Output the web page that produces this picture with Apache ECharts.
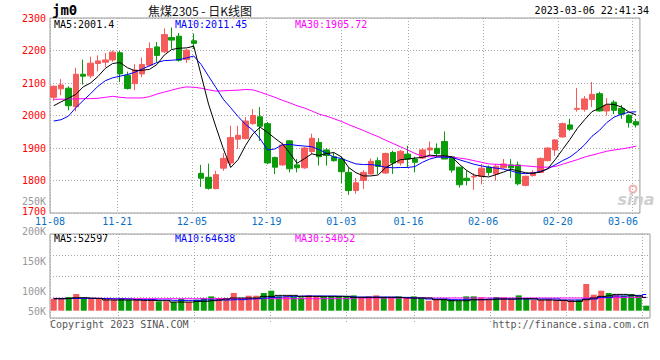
<!DOCTYPE html>
<html><head><meta charset="utf-8">
<script src="https://cdn.jsdelivr.net/npm/echarts@6/dist/echarts.min.js"></script>
<style>html,body{margin:0;padding:0;background:#fff}#c{width:660px;height:360px}</style>
</head><body><div id="c"></div>
<script>
// ---------- data ----------
const dates = ['11-08','11-09','11-10','11-11','11-14','11-15','11-16','11-17','11-18','11-21','11-22','11-23','11-24','11-25','11-28','11-29','11-30',
'12-01','12-02','12-05','12-06','12-07','12-08','12-09','12-12','12-13','12-14','12-15','12-16','12-19','12-20','12-21','12-22','12-23','12-26','12-27','12-28','12-29','12-30',
'01-03','01-04','01-05','01-06','01-09','01-10','01-11','01-12','01-13','01-16','01-17','01-18','01-19','01-20','01-30','01-31',
'02-01','02-02','02-03','02-06','02-07','02-08','02-09','02-10','02-13','02-14','02-15','02-16','02-17','02-20','02-21','02-22','02-23','02-24','02-27','02-28',
'03-01','03-02','03-03','03-06','03-07'];
const opens = [2056,2082,2084,2027,2127,2122,2160,2164,2171,2193,2124,2098,2128,2155,2211,2196,2240,2244,2172,2230,
1822,1810,1775,1838,1854,1927,1929,1975,1996,1975,1871,1848,1922,1848,1839,1889,1917,1894,1873,1866,
1825,1769,1800,1820,1861,1823,1886,1854,1881,1866,1869,1894,1899,1920,1873,1841,1807,1811,1813,1841,
1820,1839,1848,1848,1785,1815,1825,1861,1894,1934,1971,2019,2019,2049,2067,2014,2041,2022,2001,1981];
const closes = [2090,2094,2030,2127,2121,2161,2168,2171,2195,2128,2083,2140,2157,2206,2185,2249,2232,2170,2201,2222,
1807,1776,1818,1868,1932,1939,1983,2000,1967,1854,1841,1909,1836,1839,1900,1930,1873,1877,1861,1827,
1769,1793,1825,1859,1843,1883,1854,1890,1866,1856,1894,1900,1883,1866,1832,1787,1800,1813,1838,1825,
1844,1851,1839,1790,1813,1825,1868,1900,1925,1975,1958,2022,2051,2065,2014,2032,2016,2004,1978,1971];
const lows = [2045,2062,2016,2013,2095,2115,2136,2149,2165,2103,2080,2078,2118,2150,2165,2193,2205,2166,2162,2205,
1780,1772,1773,1830,1846,1897,1926,1972,1922,1850,1820,1845,1825,1825,1836,1881,1846,1846,1858,1792,
1756,1759,1774,1818,1820,1820,1820,1846,1839,1825,1866,1876,1871,1866,1824,1778,1785,1771,1788,1815,
1800,1836,1808,1785,1782,1812,1823,1859,1876,1932,1953,2012,2012,2026,2012,2000,2004,1990,1963,1963];
const highs = [2092,2112,2090,2147,2172,2181,2185,2192,2200,2199,2135,2158,2178,2225,2226,2268,2271,2254,2205,2252,
1848,1852,1830,1884,1968,1968,1995,2020,2026,1980,1873,1917,1924,1866,1904,1944,1930,1900,1886,1873,
1841,1808,1832,1868,1871,1886,1892,1894,1907,1873,1900,1920,1914,1951,1873,1841,1832,1822,1851,1846,
1851,1866,1866,1858,1815,1832,1871,1902,1927,1978,1990,2085,2060,2103,2073,2054,2047,2032,2004,1990];
const ma5 = [2030,2042,2053,2065,2088,2100,2120,2145,2160,2163,2147,2138,2139,2142,2157,2186,2203,2207,2208,2213,
2124,2035,1965,1898,1840,1864,1907,1943,1964,1948,1930,1913,1885,1853,1867,1882,1877,1883,1886,1873,
1840,1824,1814,1814,1817,1839,1852,1864,1866,1869,1871,1878,1876,1876,1873,1850,1831,1817,1813,1811,
1818,1826,1835,1829,1824,1822,1826,1836,1864,1895,1926,1960,1987,2012,2022,2035,2034,2026,2011,2001.4];
const ma10 = [1983,1987,1998,2024,2046,2067,2090,2107,2116,2121,2126,2133,2143,2153,2163,2169,2170,2172,2177,2183,
2157,2121,2086,2050,2024,1997,1973,1955,1928,1894,1897,1910,1911,1908,1906,1904,1895,1884,1872,1868,
1859,1851,1849,1849,1846,1841,1839,1840,1840,1843,1856,1866,1872,1872,1871,1864,1857,1850,1845,1841,
1838,1835,1830,1823,1821,1823,1828,1836,1848,1861,1872,1889,1910,1936,1954,1978,1995,2004,2010,2011.45];
const ma30 = [2050,2050,2051,2051,2052,2052,2053,2056,2059,2056,2054,2054,2054,2058,2066,2072,2078,2084,2088,2087,
2084,2079,2075,2076,2077,2078,2080,2079,2072,2064,2056,2047,2039,2030,2023,2014,2004,1998,1990,1982,
1972,1963,1954,1944,1935,1924,1914,1904,1894,1883,1875,1873,1873,1873,1872,1869,1866,1861,1856,1851,
1850,1848,1847,1846,1845,1843,1841,1841,1843,1850,1857,1864,1872,1878,1884,1890,1894,1897,1901,1905.72];
const volumes = [48000,48000,54700,66700,50700,46700,46700,46700,44000,50700,44000,44000,44000,46700,37300,37300,34700,46700,34700,44000,
50700,57300,50700,48000,70700,50700,60000,60000,70700,80000,57300,57300,54700,53300,61300,57300,54700,54700,54700,54700,
61300,53300,57300,61300,54700,50700,57300,50700,57300,50700,40000,46700,46700,44000,40000,57300,57300,53300,44000,54700,
53300,46700,61300,50700,44000,44000,46700,44000,44000,44000,44000,106700,64000,80000,70700,64000,60000,66700,57300,20000];
const volMa5 = [48000,48000,49000,52000,52000,50000,49000,43000,42700,42700,42700,42700,41300,41300,40000,40000,34700,34700,34700,37300,
37300,40000,42700,46700,50700,50700,50700,50700,57300,57300,61300,61300,61300,57300,57300,57300,57300,57300,57300,57300,
53300,53300,53300,53300,53300,53300,53300,50700,50700,50700,50700,44000,44000,40000,40000,40000,44000,44000,44000,46700,
46700,46700,48000,48000,48000,42700,42700,41300,41300,37300,37300,44000,50700,57300,60000,65300,65300,62000,58700,52597];
const volMa10 = [48000,48000,48500,49000,49000,49000,49000,48000,47000,47000,46700,44000,44000,44000,42700,42700,41300,41300,41300,41300,
42700,42700,42700,42700,44000,44000,46700,48000,50700,53300,54700,56000,57300,58700,59000,59000,58700,58700,58000,57300,
54700,54700,54700,54700,54700,54700,53300,53300,50700,50700,46700,46700,46700,44000,44000,44000,44000,44000,46700,46700,
46700,46700,46700,46700,46700,46700,46700,46700,42700,42700,42700,46700,46700,53300,53300,58700,58700,61300,61300,64638];
const volMa30 = [49300,49300,49300,49300,49300,49300,49300,49300,48000,48000,48000,48000,48000,48000,48000,48000,48000,48000,48000,48000,
48000,48000,48000,48000,48000,48000,48000,48000,48000,48000,48000,48000,48000,48000,48000,48000,48000,48000,48000,48000,
50700,50700,50700,50700,50700,50700,50700,50700,50700,50700,50700,50700,50700,50700,50700,50700,50700,50700,50700,50700,
50700,50700,50700,50700,50700,50700,50700,50700,50700,50700,50700,50700,50700,51300,52000,52600,53000,53400,53800,54052];
const dateTickLabels = ['11-08','11-21','12-05','12-19','01-03','01-16','02-06','02-20','03-06'];
const priceTickLabels = ['1700','1800','1900','2000','2100','2200','2300'];
const volTickLabels = ['50K','100K','150K','200K','250K'];
const legendMain = ['MA5:2001.4','MA10:2011.45','MA30:1905.72'];
const legendVol = ['MA5:52597','MA10:64638','MA30:54052'];
const symbolText = 'jm0';
const titleText = '焦煤2305 - 日K线图';
const timeText = '2023-03-06 22:41:34';
const copyText = 'Copyright 2023 SINA.COM';
const urlText = 'http://finance.sina.com.cn';

// ---------- styles ----------
const RED = '#f65b5b', GREEN = '#0a9b0a';
const MONO = '"DejaVu Sans Mono", "Liberation Mono", monospace';
const GRIDC = '#aaaaaa';
const dotted = {type: [1, 2], color: GRIDC, width: 1};

const candleData = dates.map((d, i) => [opens[i], closes[i], lows[i], highs[i]]);
const volData = volumes.map((v, i) => ({value: v, itemStyle: {color: closes[i] >= opens[i] ? RED : GREEN}}));
const showIdx = (idx, val) => dateTickLabels.indexOf(val) >= 0;

const chart = echarts.init(document.getElementById('c'), null, {renderer: 'svg'});
chart.setOption({
  animation: false,
  backgroundColor: '#fff',
  grid: [
    {left: 50, right: 10, top: 18, height: 195, show: true, borderColor: '#999', borderWidth: 1},
    {left: 50, right: 10, top: 234, height: 84, show: true, borderColor: '#999', borderWidth: 1},
    {left: 50, right: 10, top: 201, height: 120, show: false}
  ],
  xAxis: [
    {gridIndex: 0, type: 'category', data: dates, boundaryGap: true, show: false, position: 'top'},
    {gridIndex: 0, type: 'category', data: dates, boundaryGap: false, position: 'bottom',
      axisLine: {show: false}, axisTick: {show: false},
      axisLabel: {interval: showIdx, color: '#0a6fc2', fontFamily: MONO, fontSize: 10, margin: 4, lineHeight: 9,
        formatter: v => v === '03-06' ? '{r|' + v + '}' : v,
        rich: {r: {padding: [0, 19, 0, 0], color: '#0a6fc2', fontFamily: MONO, fontSize: 10, lineHeight: 9}}},
      splitLine: {show: true, interval: showIdx, lineStyle: dotted}},
    {gridIndex: 1, type: 'category', data: dates, boundaryGap: true, show: false, position: 'top'},
    {gridIndex: 1, type: 'category', data: dates, boundaryGap: false, position: 'bottom',
      axisLine: {show: false}, axisLabel: {show: false},
      axisTick: {show: true, interval: showIdx, length: 5, lineStyle: dotted},
      splitLine: {show: true, interval: showIdx, lineStyle: dotted}},
    {gridIndex: 2, type: 'category', data: dates, show: false}
  ],
  yAxis: [
    {gridIndex: 0, type: 'value', min: 1700, max: 2300, interval: 100,
      axisLine: {show: false}, axisTick: {show: false},
      axisLabel: {color: '#ff0000', fontFamily: MONO, fontSize: 10, margin: 4, lineHeight: 8,
        formatter: v => {
          const t = priceTickLabels[Math.round((v - 1700) / 100)];
          return v === 1700 ? '{lo|' + t + '}' : t;
        },
        rich: {lo: {padding: [0, 0, 4, 0], color: '#ff0000', fontFamily: MONO, fontSize: 10, lineHeight: 8}}},
      splitLine: {show: true, lineStyle: dotted}},
    {gridIndex: 1, type: 'value', min: -29200, max: 306800, show: false},
    {gridIndex: 1, type: 'value', min: 0, max: 4, interval: 1, position: 'right',
      axisLine: {show: false}, axisTick: {show: false}, axisLabel: {show: false},
      splitLine: {show: true, lineStyle: dotted}},
    {gridIndex: 2, type: 'value', min: 50000, max: 250000, interval: 50000,
      axisLine: {show: false}, axisTick: {show: false}, splitLine: {show: false},
      axisLabel: {color: '#999', fontFamily: MONO, fontSize: 10, margin: 4, lineHeight: 8,
        formatter: v => {
          const t = volTickLabels[Math.round((v - 50000) / 50000)];
          return v === 50000 ? '{lift|' + t + '}' : t;
        },
        rich: {lift: {padding: [0, 0, 20, 0], color: '#999', fontFamily: MONO, fontSize: 10, lineHeight: 8}}}}
  ],
  series: [
    {type: 'candlestick', xAxisIndex: 0, yAxisIndex: 0, data: candleData, barWidth: 6,
      itemStyle: {color: RED, color0: GREEN, borderColor: RED, borderColor0: GREEN, borderWidth: 1}},
    {type: 'line', xAxisIndex: 0, yAxisIndex: 0, data: ma30, symbol: 'none', lineStyle: {color: '#ff00ff', width: 1}},
    {type: 'line', xAxisIndex: 0, yAxisIndex: 0, data: ma10, symbol: 'none', lineStyle: {color: '#0000ff', width: 1}},
    {type: 'line', xAxisIndex: 0, yAxisIndex: 0, data: ma5, symbol: 'none', lineStyle: {color: '#000000', width: 1}},
    {type: 'bar', xAxisIndex: 2, yAxisIndex: 1, data: volData, barWidth: 6},
    {type: 'line', xAxisIndex: 2, yAxisIndex: 1, data: volMa30, step: 'middle', symbol: 'none', lineStyle: {color: '#ff00ff', width: 1}},
    {type: 'line', xAxisIndex: 2, yAxisIndex: 1, data: volMa10, step: 'middle', symbol: 'none', lineStyle: {color: '#0000ff', width: 1}},
    {type: 'line', xAxisIndex: 2, yAxisIndex: 1, data: volMa5, step: 'middle', symbol: 'none', lineStyle: {color: '#000000', width: 1}}
  ],
  graphic: [
    {type: 'text', x: 52, y: 10, style: {text: symbolText, font: 'bold 14px ' + MONO, fill: '#000', textVerticalAlign: 'middle'}},
    {type: 'text', x: 200, y: 10, style: {text: titleText, font: '12px "Noto Sans CJK SC", sans-serif', fill: '#111', textAlign: 'center', textVerticalAlign: 'middle'}},
    {type: 'text', x: 649, y: 10, style: {text: timeText, font: '10px ' + MONO, fill: '#000', textAlign: 'right', textVerticalAlign: 'middle'}},
    {type: 'text', x: 54, y: 24, style: {text: legendMain[0], font: '10px ' + MONO, fill: '#000', textVerticalAlign: 'middle'}},
    {type: 'text', x: 175, y: 24, style: {text: legendMain[1], font: '10px ' + MONO, fill: '#0000ff', textVerticalAlign: 'middle'}},
    {type: 'text', x: 295, y: 24, style: {text: legendMain[2], font: '10px ' + MONO, fill: '#ff00ff', textVerticalAlign: 'middle'}},
    {type: 'text', x: 54, y: 238.5, style: {text: legendVol[0], font: '10px ' + MONO, fill: '#000', textVerticalAlign: 'middle'}},
    {type: 'text', x: 175, y: 238.5, style: {text: legendVol[1], font: '10px ' + MONO, fill: '#0000ff', textVerticalAlign: 'middle'}},
    {type: 'text', x: 295, y: 238.5, style: {text: legendVol[2], font: '10px ' + MONO, fill: '#ff00ff', textVerticalAlign: 'middle'}},
    {type: 'text', x: 50, y: 324, style: {text: copyText, font: '10px ' + MONO, fill: '#555', textVerticalAlign: 'middle'}},
    {type: 'text', x: 649, y: 324, style: {text: urlText, font: '10px ' + MONO, fill: '#555', textAlign: 'right', textVerticalAlign: 'middle'}},
    {type: 'circle', shape: {cx: 633, cy: 189, r: 3.5}, style: {fill: 'none', stroke: '#f3b3b3', lineWidth: 2}},
    {type: 'text', x: 636, y: 199, style: {text: 'sina', font: 'italic bold 16px "DejaVu Sans", sans-serif', fill: '#cfcfcf', textAlign: 'center', textVerticalAlign: 'middle'}}
  ]
});
</script></body></html>
